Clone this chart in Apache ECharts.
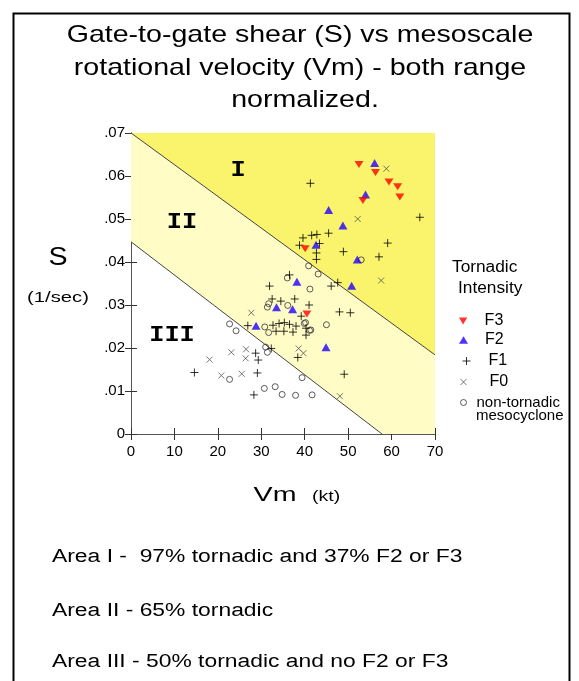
<!DOCTYPE html>
<html><head><meta charset="utf-8">
<script src="https://cdn.jsdelivr.net/npm/echarts@6/dist/echarts.min.js"></script>
<style>html,body{margin:0;padding:0;background:#fff}#c{width:579px;height:681px}</style>
</head><body><div id="c"></div>
<script>
// ---- tick labels ----
const xTickLabels = ['0','10','20','30','40','50','60','70'];
const yTickLabels = ['0','.01','.02','.03','.04','.05','.06','.07'];

// ---- region boundaries (Vm kt, S 1/sec) ----
const regionI = [[0,0.07],[70,0.07],[70,0.0184]];
const regionII = [[0,0.0447],[0,0.07],[70,0.0184],[70,0],[57.8,0]];
const upperLine = [[0,0.07],[70,0.0184]];
const lowerLine = [[0,0.0447],[57.8,0]];

// ---- series values [Vm, S] ----
const f3 = [[52.5,0.0627],[56.3,0.0608],[59.4,0.0586],[61.4,0.0575],[61.9,0.0551],[53.4,0.0543],[40.1,0.0431],[40.5,0.0279]];
const f2 = [[56.1,0.0630],[54.0,0.0557],[45.5,0.0521],[48.8,0.0485],[42.6,0.0440],[52.1,0.0406],[38.2,0.0354],[50.8,0.0345],[33.5,0.0295],[37.2,0.0290],[28.8,0.0252],[44.9,0.0202]];
const f1 = [[41.3,0.0583],[66.5,0.0504],[39.6,0.0456],[41.6,0.0462],[42.8,0.0464],[45.5,0.0467],[38.8,0.0439],[43.4,0.0443],[42.7,0.0421],[42.7,0.0406],[48.9,0.0424],[59.1,0.0444],[57.1,0.0412],[36.5,0.0370],[46.1,0.0344],[47.6,0.0352],[31.9,0.0344],[32.5,0.0314],[34.5,0.0309],[37.7,0.0314],[41.0,0.0300],[39.2,0.0274],[48.0,0.0284],[50.5,0.0282],[26.9,0.0252],[32.7,0.0253],[34.1,0.0257],[35.3,0.0259],[36.5,0.0255],[38.0,0.0251],[40.3,0.0246],[33.4,0.0239],[35.2,0.0239],[37.3,0.0237],[40.3,0.0230],[32.3,0.0199],[28.7,0.0188],[29.3,0.0172],[38.4,0.0178],[14.6,0.0143],[29.1,0.0142],[49.1,0.0139],[28.3,0.0091]];
const f0 = [[58.8,0.0617],[52.2,0.0500],[57.6,0.0357],[27.7,0.0282],[38.6,0.0199],[39.7,0.0188],[48.1,0.0088],[23.1,0.0190],[26.5,0.0197],[26.4,0.0176],[18.1,0.0173],[20.8,0.0136],[25.5,0.0140]];
const nonTornadic = [[40.9,0.0391],[43.1,0.0372],[36.0,0.0363],[41.2,0.0337],[53.0,0.0405],[31.7,0.0303],[31.4,0.0295],[36.1,0.0299],[40.2,0.0259],[45.0,0.0254],[41.4,0.0242],[39.9,0.0257],[30.8,0.0249],[31.7,0.0236],[41.1,0.0241],[22.7,0.0256],[24.2,0.0240],[31.0,0.0202],[31.4,0.0190],[39.4,0.0131],[22.7,0.0127],[30.7,0.0106],[33.2,0.0110],[34.8,0.0092],[37.9,0.0090],[41.7,0.0091]];

const SANS = '"Liberation Sans", Arial, sans-serif';
const PLUS = 'path://M0,5L10,5M5,0L5,10';
const CROSS = 'path://M0,0L10,10M10,0L0,10';
const DOWN = 'path://M0,0L10,0L5,8.5Z';
const UP = 'path://M5,0L10,8.5L0,8.5Z';

function polyRender(points, fill){
  return function(params, api){
    if (params.dataIndex !== 0) return null;
    return {type:'polygon', silent:true, shape:{points: points.map(p => api.coord(p))}, style:{fill: fill}};
  };
}

const chart = echarts.init(document.getElementById('c'), null, {renderer:'canvas'});

function txt(text, x, y, size, opts){
  opts = opts || {};
  return {type:'text', x:x, y:y, z:100, scaleX: opts.sx || 1, silent:true,
    style:{text:text, fill:'#000', font:(opts.bold?'bold ':'') + size + 'px ' + (opts.family || SANS),
      textAlign: opts.align || 'center', textVerticalAlign:'middle'}};
}

const axisCommon = {
  min:0, axisLine:{show:true, lineStyle:{color:'#555', width:1}},
  axisTick:{show:true, inside:true, length:6, lineStyle:{color:'#333'}},
  splitLine:{show:false}
};

function legendItem(name, top, left, icon, size, style, padLeft, extra){
  return Object.assign({
    data:[name], left:left, top:top, padding:0, orient:'vertical', selectedMode:false,
    icon:icon, itemWidth:size[0], itemHeight:size[1], itemStyle:style,
    textStyle:{fontFamily:SANS, fontSize:16, color:'#000', padding:[0,0,0,padLeft]}
  }, extra || {});
}

const option = {
  animation:false,
  backgroundColor:'#fff',
  grid:{left:131, top:133, right:144, bottom:247, containLabel:false},
  xAxis:[
    Object.assign({}, axisCommon, {type:'value', position:'bottom', max:70, interval:10,
      axisLabel:{fontFamily:SANS, fontSize:15, color:'#000', margin:10,
        formatter:(v, i) => xTickLabels[i]}}),
    Object.assign({}, axisCommon, {type:'value', position:'top', max:70, interval:10, axisLabel:{show:false}})
  ],
  yAxis:[
    Object.assign({}, axisCommon, {type:'value', position:'left', max:0.07, interval:0.01,
      axisLabel:{fontFamily:SANS, fontSize:15, color:'#000', margin:6,
        formatter:(v, i) => yTickLabels[i]}}),
    Object.assign({}, axisCommon, {type:'value', position:'right', max:0.07, interval:0.01, axisLabel:{show:false}})
  ],
  legend:[
    legendItem('F3', 313, 459, DOWN, [9,7], {color:'#ff0000', borderWidth:0}, 12),
    legendItem('F2', 332, 459, UP, [9,8], {color:'#2200ff', borderWidth:0}, 12),
    legendItem('F1', 353, 462, PLUS, [8,8], {color:'transparent', borderColor:'#000', borderWidth:1}, 13),
    legendItem('F0', 374, 460, CROSS, [6,6], {color:'transparent', borderColor:'#555', borderWidth:1}, 18),
    legendItem('non-tornadic mesocyclone', 395, 460, 'circle', [6,6], {color:'#fff', borderColor:'#333', borderWidth:1}, 5,
      {formatter:() => 'non-tornadic',
       textStyle:{fontFamily:SANS, fontSize:15, color:'#000', padding:[0,0,0,5]}})
  ],
  series:[
    {type:'custom', name:'regionII', data:regionII, renderItem:polyRender(regionII, '#fffcc6'), z:1, silent:true, clip:true},
    {type:'custom', name:'regionI', data:regionI, renderItem:polyRender(regionI, '#f9f46c'), z:1, silent:true, clip:true},
    {type:'line', name:'upper', data:upperLine, symbol:'none', silent:true, z:2, lineStyle:{color:'#444', width:1}},
    {type:'line', name:'lower', data:lowerLine, symbol:'none', silent:true, z:2, lineStyle:{color:'#444', width:1}},
    {type:'scatter', name:'non-tornadic mesocyclone', data:nonTornadic, symbol:'circle', symbolSize:6, z:3,
      itemStyle:{color:'rgba(0,0,0,0)', borderColor:'#333', borderWidth:1}},
    {type:'scatter', name:'F0', data:f0, symbol:CROSS, symbolSize:6, z:3,
      itemStyle:{color:'transparent', borderColor:'#555', borderWidth:1}},
    {type:'scatter', name:'F1', data:f1, symbol:PLUS, symbolSize:8, z:4,
      itemStyle:{color:'transparent', borderColor:'#000', borderWidth:1}},
    {type:'scatter', name:'F2', data:f2, symbol:UP, symbolSize:[9,8], z:5,
      itemStyle:{color:'#2200ff'}},
    {type:'scatter', name:'F3', data:f3, symbol:DOWN, symbolSize:[9,7], z:5,
      itemStyle:{color:'#ff0000'}}
  ],
  graphic:[
    {type:'rect', silent:true, z:100, shape:{x:13.5, y:13.5, width:556, height:720}, style:{fill:'none', stroke:'#000', lineWidth:2}},
    txt('Gate-to-gate shear (S) vs mesoscale', 300, 35, 24, {sx:1.19}),
    txt('rotational velocity (Vm) - both range', 300, 68, 24, {sx:1.19}),
    txt('normalized.', 305, 100, 24, {sx:1.19}),
    txt('S', 58, 258, 26, {sx:1.1}),
    txt('(1/sec)', 58, 298, 15, {sx:1.35}),
    txt('Vm', 275, 495, 21, {sx:1.36}),
    txt('(kt)', 312, 497, 15, {sx:1.3, align:'left'}),
    txt('I', 238, 170, 22, {sx:1.15, bold:true, family:'"Liberation Mono", monospace'}),
    txt('II', 182, 222, 22, {sx:1.15, bold:true, family:'"Liberation Mono", monospace'}),
    txt('III', 172, 335, 22, {sx:1.15, bold:true, family:'"Liberation Mono", monospace'}),
    txt('Tornadic', 452, 268, 16, {sx:1.08, align:'left'}),
    txt('Intensity', 458, 289, 16, {sx:1.08, align:'left'}),
    txt('mesocyclone', 476, 416, 15, {align:'left'}),
    txt('Area I -  97% tornadic and 37% F2 or F3', 52, 557, 18, {sx:1.27, align:'left'}),
    txt('Area II - 65% tornadic', 52, 611, 18, {sx:1.27, align:'left'}),
    txt('Area III - 50% tornadic and no F2 or F3', 52, 662, 18, {sx:1.27, align:'left'})
  ]
};
chart.setOption(option);
</script>
</body></html>
